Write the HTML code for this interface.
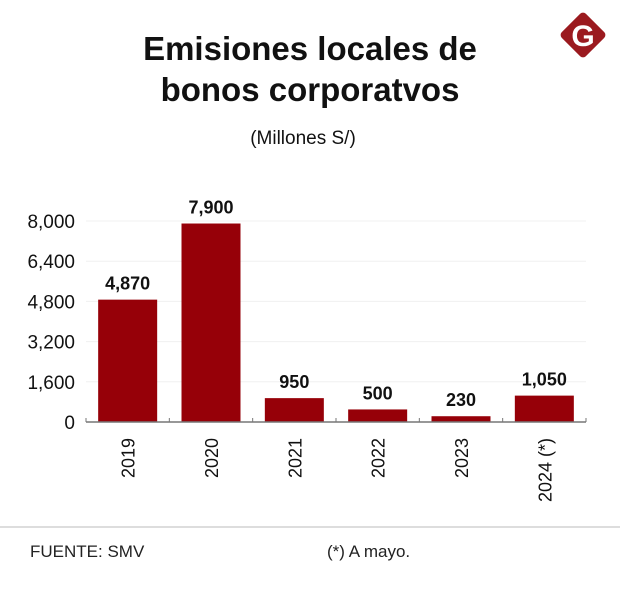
<!DOCTYPE html>
<html><head><meta charset="utf-8"><style>
body{margin:0;background:#fff;font-family:"Liberation Sans",sans-serif;}
#wrap{position:relative;width:620px;height:595px;overflow:hidden;background:#fff}
</style></head><body>
<div id="wrap">
<svg width="620" height="595" id="svg">
<text x="310" y="60" text-anchor="middle" font-size="33" font-weight="bold" fill="#111">Emisiones locales de</text>
<text x="310" y="101" text-anchor="middle" font-size="33" font-weight="bold" fill="#111">bonos corporatvos</text>
<text x="303" y="144" text-anchor="middle" font-size="19" fill="#111">(Millones S/)</text>
<g>
<rect x="566" y="18" width="34" height="34" rx="4" fill="#9b1a1f" transform="rotate(45 583 35)"/>
<text x="583" y="46" text-anchor="middle" font-size="30" font-weight="bold" fill="#fff">G</text>
</g>
<g id="plot"></g>
<line x1="0" y1="527" x2="620" y2="527" stroke="#bbb" stroke-width="1"/>
<text x="30" y="557" font-size="17" fill="#222">FUENTE: SMV</text>
<text x="327" y="557" font-size="17" fill="#222">(*) A mayo.</text>
</svg>
</div>
<script>
const categories=["2019","2020","2021","2022","2023","2024 (*)"];
const values=[4870,7900,950,500,230,1050];
const valueLabels=["4,870","7,900","950","500","230","1,050"];
const yTicks=[0,1600,3200,4800,6400,8000];
const yTickLabels=["0","1,600","3,200","4,800","6,400","8,000"];
const NS="http://www.w3.org/2000/svg";
const plot=document.getElementById("plot");
const x0=86,x1=586,yBase=422,yTop=221,yMax=8000;
const band=(x1-x0)/categories.length;
const y=v=>yBase-(v/yMax)*(yBase-yTop);
const xc=i=>x0+band*(i+0.5);
function mk(tag,attrs){const e=document.createElementNS(NS,tag);for(const k in attrs)e.setAttribute(k,attrs[k]);plot.appendChild(e);return e;}
yTicks.forEach((t,i)=>{
  if(t>0){const g=mk("line",{x1:x0,x2:x1,y1:y(t),y2:y(t),stroke:"#f0f0f0","stroke-width":1});
  
  }
  const l=mk("text",{x:75,y:y(t)+7,"text-anchor":"end","font-size":19,fill:"#111"});
  l.textContent=yTickLabels[i];
  
  
});
values.forEach((v,i)=>{
  const w=59;
  const b=mk("rect",{x:xc(i)-w/2,y:y(v),width:w,height:yBase-y(v),fill:"#960008"});
  
  
  const t=mk("text",{x:xc(i),y:y(v)-10,"text-anchor":"middle","font-size":18,"font-weight":"bold",fill:"#111"});
  t.textContent=valueLabels[i];
  
  
  const c=mk("text",{transform:`translate(${xc(i)+7},${438}) rotate(-90)`,"text-anchor":"end","font-size":18,fill:"#111"});
  c.textContent=categories[i];
  
  
});
const ax=mk("line",{x1:x0,x2:x1,y1:yBase,y2:yBase,stroke:"#777","stroke-width":1.5});


for(let i=0;i<=categories.length;i++){
  const tk=mk("line",{x1:x0+band*i,x2:x0+band*i,y1:yBase-4,y2:yBase,stroke:"#777","stroke-width":1});
  
  
}
</script>
</body></html>
